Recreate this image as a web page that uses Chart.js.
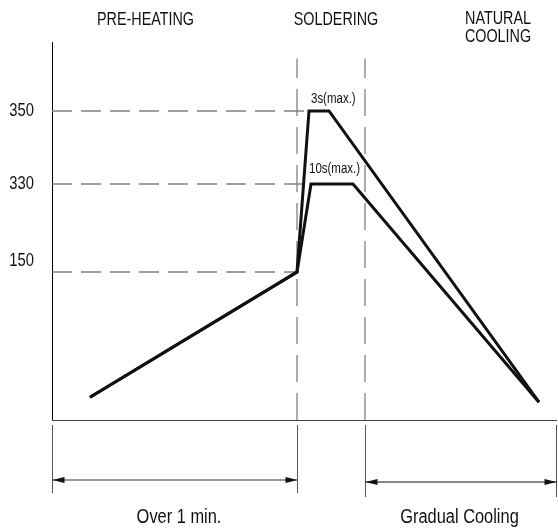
<!DOCTYPE html>
<html>
<head>
<meta charset="utf-8">
<script src="https://cdn.jsdelivr.net/npm/chart.js@4/dist/chart.umd.min.js"></script>
<style>
  html, body { margin: 0; padding: 0; background: #fff; }
  #wrap { width: 558px; height: 530px; }
</style>
</head>
<body>
<div id="wrap"><canvas id="c" width="558" height="530"></canvas></div>
<script>
// ---------------- data ----------------
const phaseNames = [['PRE-HEATING'], ['SOLDERING'], ['NATURAL', 'COOLING']];
const phaseLabelTime = [18.7, 56.8, 89.2];
const phaseBounds = [0, 49, 62.6, 100.8];          // time at start/end of each phase
const tempTicks = [150, 330, 350];
const profile3sTime = [7.6, 49, 51.4, 55.4, 97.4];
const profile3sTemp = [23, 150, 350, 350, 18];
const profile10sTime = [7.6, 49, 51.8, 60.2, 97.4];
const profile10sTemp = [23, 150, 330, 330, 18];
const peakLabels = ['3s(max.)', '10s(max.)'];
const spanLabels = ['Over 1 min.', 'Gradual Cooling'];
const spanLabelTime = [25.4, 81.5];
const dividerTopTemp = 388;

// non-linear (schematic) temperature axis breakpoints
const tempKnots = [0, 150, 330, 350, 400];
const knotFractions = [0, 0.3915, 0.6243, 0.8175, 1];

const FONT = '"Liberation Sans", Arial, sans-serif';
const SQUEEZE = 0.82;   // narrow typeface look

function interp(v, xs, ys) {
  if (v <= xs[0]) return ys[0] + (v - xs[0]) * (ys[1] - ys[0]) / (xs[1] - xs[0]);
  for (let i = 1; i < xs.length; i++) {
    if (v <= xs[i]) return ys[i - 1] + (v - xs[i - 1]) * (ys[i] - ys[i - 1]) / (xs[i] - xs[i - 1]);
  }
  const n = xs.length - 1;
  return ys[n] + (v - xs[n]) * (ys[n] - ys[n - 1]) / (xs[n] - xs[n - 1]);
}

class SchematicScale extends Chart.LinearScale {
  getPixelForValue(value) {
    return this.getPixelForDecimal(interp(value, tempKnots, knotFractions));
  }
  getValueForPixel(pixel) {
    return interp(this.getDecimalForPixel(pixel), knotFractions, tempKnots);
  }
}
SchematicScale.id = 'schematic';
SchematicScale.defaults = Chart.LinearScale.defaults;
Chart.register(SchematicScale);

const pts = (xs, ys) => xs.map((x, i) => ({ x: x, y: ys[i] }));

const curveStyle = {
  borderColor: '#111', borderWidth: 3, pointRadius: 0, tension: 0,
  borderJoinStyle: 'miter', borderCapStyle: 'butt', fill: false
};
const hDash = {
  borderColor: '#808080', borderWidth: 1.4, pointRadius: 0, tension: 0,
  borderDash: [20, 9], fill: false, order: 5
};
const vDash = {
  borderColor: '#6a6a6a', borderWidth: 1.1, pointRadius: 0, tension: 0,
  borderDash: [27, 11], fill: false, order: 5
};

const datasets = [
  Object.assign({ label: '3s', data: pts(profile3sTime, profile3sTemp), order: 1 }, curveStyle),
  Object.assign({ label: '10s', data: pts(profile10sTime, profile10sTemp), order: 2 }, curveStyle),
  Object.assign({ label: 'g350', data: [{ x: 0, y: profile3sTemp[2] }, { x: profile3sTime[2], y: profile3sTemp[2] }] }, hDash),
  Object.assign({ label: 'g330', data: [{ x: 0, y: profile10sTemp[2] }, { x: profile10sTime[2], y: profile10sTemp[2] }] }, hDash),
  Object.assign({ label: 'g150', data: [{ x: 0, y: profile3sTemp[1] }, { x: profile3sTime[1], y: profile3sTemp[1] }] }, hDash),
  Object.assign({ label: 'd1', data: [{ x: phaseBounds[1], y: 0 }, { x: phaseBounds[1], y: dividerTopTemp }] }, vDash),
  Object.assign({ label: 'd2', data: [{ x: phaseBounds[2], y: 0 }, { x: phaseBounds[2], y: dividerTopTemp }] }, vDash)
];

function arrowHead(ctx, x, y, dir) {
  ctx.beginPath();
  ctx.moveTo(x, y);
  ctx.lineTo(x + dir * 12, y - 3);
  ctx.lineTo(x + dir * 12, y + 3);
  ctx.closePath();
  ctx.fill();
}

function text(ctx, t, x, y, align, size) {
  ctx.save();
  ctx.font = size + 'px ' + FONT;
  ctx.textAlign = align;
  ctx.translate(x, y);
  ctx.scale(SQUEEZE, 1);
  ctx.fillText(t, 0, 0);
  ctx.restore();
}

const annot = {
  id: 'annot',
  afterDraw(chart) {
    const ctx = chart.ctx;
    const xs = chart.scales.x, ys = chart.scales.y;
    const ca = chart.chartArea;
    ctx.save();
    // x axis line
    ctx.strokeStyle = '#444';
    ctx.lineWidth = 1;
    ctx.beginPath();
    ctx.moveTo(ca.left, Math.round(ca.bottom) + 0.5);
    ctx.lineTo(ca.right, Math.round(ca.bottom) + 0.5);
    ctx.stroke();

    ctx.fillStyle = '#111';
    ctx.textBaseline = 'middle';

    // y tick labels (from the scale's ticks)
    const tickSize = 18, lh = tickSize * 1.2;
    ys.ticks.forEach(tk => {
      const lab = tk.label;
      const lines = Array.isArray(lab) ? lab : [lab];
      const off = (1 - lines.length) * lh / 2;
      const py = ys.getPixelForValue(tk.value) + off;
      lines.forEach((l, j) => text(ctx, l, ca.left - 18, py + j * lh, 'right', tickSize));
    });

    // phase titles
    phaseNames.forEach((lines, i) => {
      const px = xs.getPixelForValue(phaseLabelTime[i]);
      lines.forEach((t, j) => text(ctx, t, px, (lines.length > 1 ? 19 : 20) + j * 18, 'center', 17.5));
    });

    // peak labels
    ctx.textBaseline = 'bottom';
    text(ctx, peakLabels[0], xs.getPixelForValue(profile3sTime[2]) + 2, ys.getPixelForValue(profile3sTemp[2]) - 5, 'left', 14);
    text(ctx, peakLabels[1], xs.getPixelForValue(profile10sTime[2]) - 2, ys.getPixelForValue(profile10sTemp[2]) - 8, 'left', 14);

    // extension lines below axis
    const b = ca.bottom;
    ctx.strokeStyle = '#555';
    ctx.lineWidth = 1;
    const ext = [[phaseBounds[0], 68], [phaseBounds[1], 68], [phaseBounds[2], 72], [phaseBounds[3], 72]];
    ext.forEach(([t, len]) => {
      const px = Math.round(xs.getPixelForValue(t)) + 0.5;
      ctx.beginPath();
      ctx.moveTo(px, b + 5);
      ctx.lineTo(px, b + 5 + len);
      ctx.stroke();
    });

    // dimension arrows
    const a1 = xs.getPixelForValue(phaseBounds[0]) + 0.5, a2 = xs.getPixelForValue(phaseBounds[1]) + 0.5;
    const a3 = xs.getPixelForValue(phaseBounds[2]) + 0.5, a4 = xs.getPixelForValue(phaseBounds[3]) + 0.5;
    const y1 = b + 60, y2 = b + 62;
    ctx.strokeStyle = '#777';
    ctx.lineWidth = 1.6;
    ctx.beginPath(); ctx.moveTo(a1, y1); ctx.lineTo(a2, y1); ctx.stroke();
    ctx.strokeStyle = '#111';
    ctx.lineWidth = 1;
    ctx.beginPath(); ctx.moveTo(a3, y2); ctx.lineTo(a4, y2); ctx.stroke();
    ctx.fillStyle = '#111';
    arrowHead(ctx, a1, y1, 1); arrowHead(ctx, a2, y1, -1);
    arrowHead(ctx, a3, y2, 1); arrowHead(ctx, a4, y2, -1);

    // span labels
    ctx.textBaseline = 'middle';
    spanLabels.forEach((t, i) => text(ctx, t, xs.getPixelForValue(spanLabelTime[i]), b + 97, 'center', 20));
    ctx.restore();
  }
};

new Chart(document.getElementById('c'), {
  type: 'line',
  data: { datasets: datasets },
  plugins: [annot],
  options: {
    responsive: false,
    animation: false,
    layout: { padding: { top: 42, right: 1, bottom: 110, left: 0 } },
    plugins: { legend: { display: false }, tooltip: { enabled: false } },
    scales: {
      x: { type: 'linear', min: 0, max: 101, display: false },
      y: {
        type: 'schematic', min: 0, max: 400,
        afterBuildTicks: s => { s.ticks = tempTicks.map(v => ({ value: v })); },
        afterFit: s => { s.width = 52; },
        grid: { display: false, drawTicks: false },
        border: { display: true, color: '#000', width: 1 },
        ticks: {
          display: false,
          callback: v => (v === tempTicks[0] ? [String(v), ''] : String(v))
        }
      }
    }
  }
});
</script>
</body>
</html>
